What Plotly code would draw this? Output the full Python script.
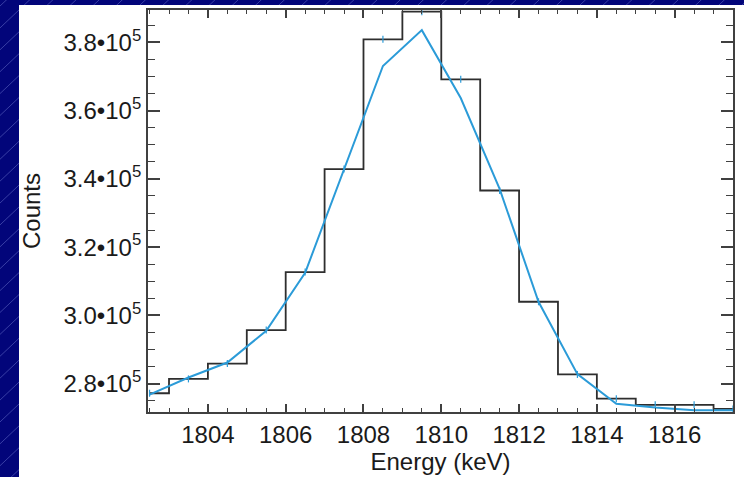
import numpy as np
import plotly.graph_objects as go

# Bin centres of the 1809 keV line region (keV)
energy = [1802.5, 1803.5, 1804.5, 1805.5, 1806.5, 1807.5, 1808.5, 1809.5,
          1810.5, 1811.5, 1812.5, 1813.5, 1814.5, 1815.5, 1816.5, 1817.5]

# Measured counts per 1 keV bin
counts = [277200, 281400, 285900, 295700, 312700, 342900, 380900, 389000,
          369200, 336600, 304000, 282700, 275600, 273800, 273800, 272600]

# Fitted line-profile model evaluated at the bin centres
model = [276800, 281800, 286200, 295500, 312500, 342800, 373100, 383600,
         363700, 337100, 304000, 282800, 274100, 273000, 272200, 272200]

x_ticks = [1804, 1806, 1808, 1810, 1812, 1814, 1816]
y_ticks = [280000, 300000, 320000, 340000, 360000, 380000]
y_tick_text = ["2.8•10<sup>5</sup>", "3.0•10<sup>5</sup>", "3.2•10<sup>5</sup>",
               "3.4•10<sup>5</sup>", "3.6•10<sup>5</sup>", "3.8•10<sup>5</sup>"]

W, H = 744, 477
ML, MR, MT, MB = 148, 11, 8, 65
PW, PH = W - ML - MR, H - MT - MB

HIST_COLOR = "#2e2e2e"
FIT_COLOR = "#2b9bd8"
AXIS_COLOR = "#404040"
FONT = "Liberation Sans, Arial, Helvetica, sans-serif"


def px_to_paper(px, py):
    return (px - ML) / PW, (H - MB - py) / PH


fig = go.Figure()

fig.add_trace(go.Scatter(
    x=energy, y=counts, mode="lines", line=dict(color=HIST_COLOR, width=1.8, shape="hvh"),
    showlegend=False, hoverinfo="skip"))

fig.add_trace(go.Scatter(
    x=energy, y=model, mode="lines", line=dict(color=FIT_COLOR, width=2.0),
    showlegend=False, hoverinfo="skip"))

# small statistical-error ticks on the data points
fig.add_trace(go.Scatter(
    x=energy, y=counts, mode="markers",
    marker=dict(symbol="line-ns", size=5, line=dict(color=FIT_COLOR, width=1.2)),
    showlegend=False, hoverinfo="skip"))

# slide background: navy with faint diagonal pinstripes, white panel on top
shapes = []
for c in np.arange(-40, 1300, 22):
    x0, y0 = px_to_paper(0, c)
    x1, y1 = px_to_paper(W, c - 0.95 * W)
    shapes.append(dict(type="line", xref="paper", yref="paper", x0=x0, y0=y0, x1=x1, y1=y1,
                       line=dict(color="rgba(140,150,230,0.4)", width=1), layer="below"))
px0, py0 = px_to_paper(19, 3)
px1, py1 = px_to_paper(W + 2, H + 2)
shapes.append(dict(type="rect", xref="paper", yref="paper", x0=px0, y0=py1, x1=px1, y1=py0,
                   fillcolor="white", line=dict(width=0), layer="below"))

fig.update_layout(
    width=W, height=H,
    margin=dict(l=ML, r=MR, t=MT, b=MB, pad=0),
    paper_bgcolor="#02057a",
    plot_bgcolor="white",
    shapes=shapes,
    font=dict(family=FONT, size=24, color="#1a1a1a"),
    xaxis=dict(
        range=[1802.46, 1817.5], tickvals=x_ticks, ticks="inside", ticklen=8, tickwidth=1.5,
        tickcolor=AXIS_COLOR, showline=True, linecolor=AXIS_COLOR, linewidth=1.8, mirror="ticks",
        showgrid=False, zeroline=False, tickfont=dict(size=24),
        minor=dict(dtick=0.5, ticks="inside", ticklen=4, tickwidth=1.3, tickcolor=AXIS_COLOR,
                   showgrid=False),
        title=dict(text="Energy (keV)", font=dict(size=24), standoff=2),
    ),
    yaxis=dict(
        range=[271700, 389500], tickvals=y_ticks, ticktext=y_tick_text, ticks="inside",
        ticklen=12, tickwidth=1.5, tickcolor=AXIS_COLOR, showline=True, linecolor=AXIS_COLOR,
        linewidth=1.8, mirror="ticks", showgrid=False, zeroline=False, tickfont=dict(size=24),
        minor=dict(dtick=5000, tick0=0, ticks="inside", ticklen=7, tickwidth=1.3,
                   tickcolor=AXIS_COLOR, showgrid=False),
        title=dict(text="Counts", font=dict(size=24), standoff=16),
    ),
)

fig.write_html("out.html")
